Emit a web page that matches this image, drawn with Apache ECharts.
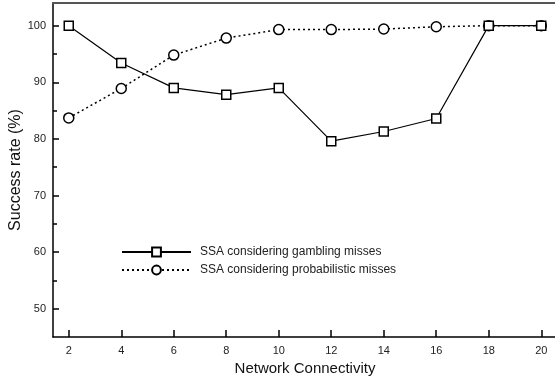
<!DOCTYPE html>
<html><head><meta charset="utf-8">
<script src="https://cdn.jsdelivr.net/npm/echarts@6/dist/echarts.min.js"></script>
<style>html,body{margin:0;padding:0;background:#fff}#c{width:555px;height:377px}</style>
</head><body><div id="c"></div>
<script>
const connectivity = [2, 4, 6, 8, 10, 12, 14, 16, 18, 20];
const gambling = [100, 93.4, 89.0, 87.8, 89.0, 79.6, 81.3, 83.6, 100, 100];
const probabilistic = [83.7, 88.9, 94.8, 97.8, 99.3, 99.3, 99.4, 99.8, 100, 100];
const xTickLabels = [2, 4, 6, 8, 10, 12, 14, 16, 18, 20];
const yTickLabels = [50, 60, 70, 80, 90, 100];
const yMinorTicks = [55, 65, 75, 85, 95];
const seriesNames = ['SSA considering gambling misses', 'SSA considering probabilistic misses'];

const FONT = 'Liberation Sans, Arial, Helvetica, sans-serif';
const chart = echarts.init(document.getElementById('c'), null, {renderer: 'canvas'});
const pair = (xs, ys) => xs.map((x, i) => [x, ys[i]]);

chart.setOption({
  animation: false,
  backgroundColor: '#fff',
  grid: {left: 53, top: 3, width: 504, height: 334, containLabel: false, outerBoundsMode: 'none'},
  legend: {
    left: 121, top: 246, orient: 'vertical', padding: 0,
    itemWidth: 69, itemHeight: 11, itemGap: 6,
    textStyle: {fontFamily: FONT, fontSize: 12, color: '#222', padding: [0, 0, 0, 4]},
    data: seriesNames
  },
  xAxis: [{
    type: 'value', min: 1.4, max: 20.6,
    name: 'Network Connectivity', nameLocation: 'middle', nameGap: 23,
    nameTextStyle: {fontFamily: FONT, fontSize: 15, color: '#111'},
    axisLine: {lineStyle: {color: '#000', width: 1.5}},
    axisTick: {inside: true, length: 7, lineStyle: {color: '#000', width: 1.5}, customValues: xTickLabels},
    axisLabel: {fontFamily: FONT, fontSize: 11, color: '#222', margin: 8, customValues: xTickLabels},
    splitLine: {show: false}
  }, {
    type: 'value', position: 'top', min: 1.4, max: 20.6,
    axisLine: {show: true, onZero: false, lineStyle: {color: '#555', width: 2}},
    axisTick: {show: false}, axisLabel: {show: false}, splitLine: {show: false}
  }],
  yAxis: [{
    type: 'value', min: 45, max: 104,
    name: 'Success rate (%)', nameLocation: 'middle', nameGap: 29, nameMoveOverlap: false,
    nameTextStyle: {fontFamily: FONT, fontSize: 16, color: '#111'},
    axisLine: {show: true, lineStyle: {color: '#000', width: 1.5}},
    axisTick: {inside: true, length: 6, lineStyle: {color: '#000', width: 1.5}, customValues: yTickLabels},
    axisLabel: {fontFamily: FONT, fontSize: 11, color: '#222', margin: 7, customValues: yTickLabels},
    splitLine: {show: false}
  }, {
    type: 'value', min: 45, max: 104, position: 'left',
    axisLine: {show: false},
    axisTick: {show: true, inside: true, length: 4, lineStyle: {color: '#000', width: 1.5}, customValues: yMinorTicks},
    axisLabel: {show: false}, splitLine: {show: false}
  }],
  series: [{
    name: seriesNames[0], type: 'line', data: pair(connectivity, gambling),
    symbol: 'rect', symbolSize: 9, showAllSymbol: true,
    lineStyle: {color: '#000', width: 1.2, type: 'solid'},
    itemStyle: {color: '#fff', borderColor: '#000', borderWidth: 1.5},
    z: 3
  }, {
    name: seriesNames[1], type: 'line', data: pair(connectivity, probabilistic),
    symbol: 'circle', symbolSize: 10, showAllSymbol: true,
    lineStyle: {color: '#000', width: 1.5, type: [2, 3]},
    itemStyle: {color: '#fff', borderColor: '#000', borderWidth: 1.5},
    z: 2
  }]
});
</script></body></html>
